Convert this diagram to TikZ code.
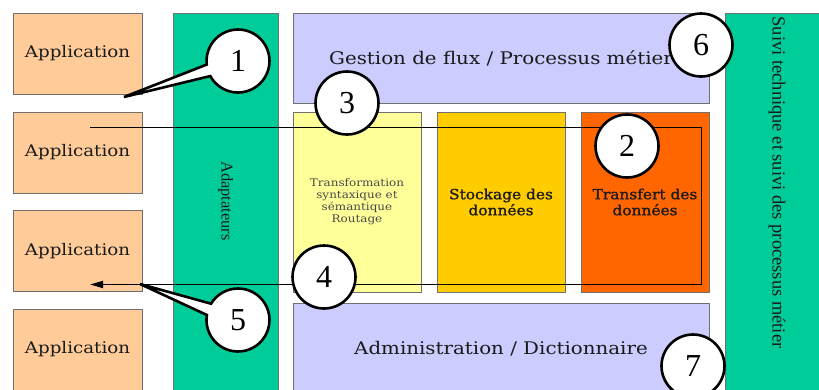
\documentclass[tikz,border=0pt]{standalone}
\usepackage{fontspec}
\setmainfont{Liberation Serif}
\newfontfamily\boxfont[FakeStretch=1.14]{DejaVu Serif}
\newfontfamily\heavyfont[FakeStretch=1.1,FakeBold=1.2]{DejaVu Serif}
\usetikzlibrary{shapes.callouts,arrows.meta}

\definecolor{peach}{HTML}{FFCC99}
\definecolor{teal}{HTML}{00CC99}
\definecolor{lavender}{HTML}{CCCCFF}
\definecolor{paleyellow}{HTML}{FFFF99}
\definecolor{gold}{HTML}{FFCC00}
\definecolor{orange}{HTML}{FF6600}
\definecolor{boxline}{HTML}{707070}
\definecolor{ink}{HTML}{1A1A1A}

\tikzset{
  box/.style={draw=boxline, line width=0.9pt, inner sep=0pt, outer sep=0pt, text=ink},
  appbox/.style={box, fill=peach, minimum width=129pt, minimum height=81pt,
    font=\boxfont\fontsize{16}{18}\selectfont},
  column/.style={box, fill=teal, minimum width=105pt, minimum height=379pt},
  band/.style={box, fill=lavender, minimum width=416pt, minimum height=90pt,
    font=\boxfont\fontsize{17.4}{19}\selectfont},
  block/.style={box, minimum width=128pt, minimum height=180pt, align=center},
  sidetext/.style={rotate=-90, text=ink},
  num/.style={circle, draw=black, line width=2.6pt, fill=white, minimum size=63pt,
    inner sep=0pt, text=black, font=\fontsize{32}{33}\selectfont},
  numcall/.style={draw=black, line width=2.6pt, fill=white, ellipse callout,
    minimum width=63pt, minimum height=63pt, inner sep=0pt, text=black,
    font=\fontsize{32}{33}\selectfont, callout pointer arc=22},
  flow/.style={draw=black, line width=1.8pt},
}

\begin{document}
\begin{tikzpicture}[x=1pt, y=-1pt]
\useasboundingbox (0,0) rectangle (819,389);
\clip (0,0) rectangle (819,389);

% applications on the left
\node[appbox] (app1) at (77.5,53.5)  {Application};
\node[appbox] (app2) at (77.5,152.5) {Application};
\node[appbox] (app3) at (77.5,251)   {Application};
\node[appbox] (app4) at (77.5,349.5) {Application};

% adapter column
\node[column] (adapt) at (225.5,202.5) {};
\node[sidetext, font=\fontsize{16.5}{18}\selectfont] (adaptlbl) at (225.5,201) {Adaptateurs};

% monitoring column
\node[column] (suivi) at (777.5,202.5) {};
\node[sidetext, font=\fontsize{18.5}{20}\selectfont] (suivilbl) at (777,182.5)
  {Suivi technique et suivi des processus métier};

% central bands
\node[band] (gestion) at (501,58) {Gestion de flux / Processus métier};
\node[band] (admin) at (501,348.5) {Administration / Dictionnaire};

% central services
\node[block, fill=paleyellow, text=ink!80, font=\boxfont\fontsize{10.5}{12}\selectfont]
  (transfo) at (357,202) {Transformation\\syntaxique et\\sémantique\\Routage};
\node[block, fill=gold, font=\heavyfont\fontsize{14}{16}\selectfont]
  (stock) at (501,202) {Stockage des\\données};
\node[block, fill=orange, font=\heavyfont\fontsize{14}{16}\selectfont]
  (transf) at (645,202) {Transfert des\\données};

% message flow
\coordinate (src) at (90,127.5);
\coordinate (dst) at (90,284.5);
\coordinate (turn) at (701.5,200);
\draw[flow, -{Triangle[length=13pt,width=7pt]}]
  (src) -- (src -| turn) -- (dst -| turn) -- (dst);

% numbered markers
\coordinate (t1) at (124,97);
\coordinate (t5) at (140,284);
\node[numcall, callout absolute pointer={(t1)}] (c1) at (238,61) {1};
\node[num] (c2) at (627,146) {2};
\node[num] (c3) at (347,103) {3};
\node[num] (c4) at (324,277) {4};
\node[numcall, callout absolute pointer={(t5)}] (c5) at (238,320) {5};
\node[num] (c6) at (701,45) {6};
\node[num] (c7) at (693,366) {7};
\end{tikzpicture}
\end{document}
